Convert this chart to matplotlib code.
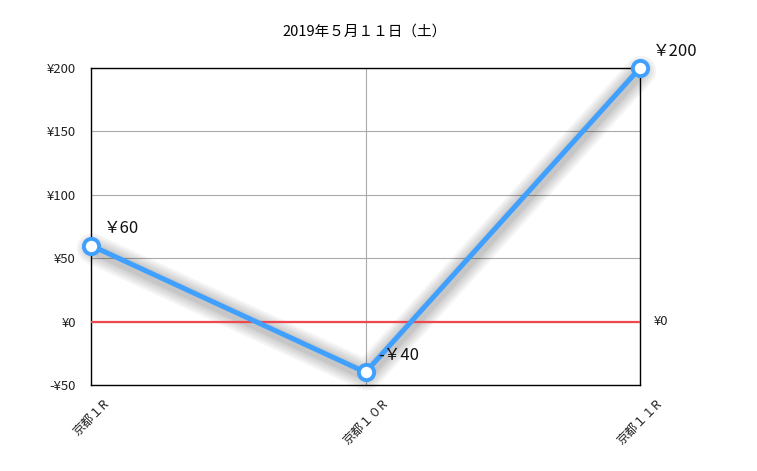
import matplotlib.pyplot as plt
import matplotlib.transforms as mtransforms

plt.rcParams['font.family'] = ['Noto Sans CJK JP', 'DejaVu Sans']

races = ["京都１R", "京都１０R", "京都１１R"]
profit = [60, -40, 200]
point_labels = ["￥60", "-￥40", "￥200"]
y_ticks = [-50, 0, 50, 100, 150, 200]
y_tick_labels = ["-¥50", "¥0", "¥50", "¥100", "¥150", "¥200"]
title = "2019年５月１１日（土）"

fig = plt.figure(figsize=(7.57, 4.71), dpi=100)
ax = fig.add_axes([91/757, 1-385/471, (640-91)/757, (385-68)/471])

x = list(range(len(races)))

# soft shadow: stacked wide strokes with low alpha
shift = ax.transData + mtransforms.ScaledTranslation(1/100, -3/100, fig.dpi_scale_trans)
for w in [22, 19, 16, 13, 10, 8]:
    ax.plot(x, profit, color="black", linewidth=w, alpha=0.04,
            solid_capstyle="round", solid_joinstyle="round",
            transform=shift, zorder=2, clip_on=False)

ax.plot(x, profit, color="#3fa0ff", linewidth=3.6, zorder=4,
        marker="o", markersize=11, markerfacecolor="white",
        markeredgecolor="#3fa0ff", markeredgewidth=2.8, clip_on=False)

ax.axhline(0, color="#f0474f", linewidth=1.6, zorder=3)
ax.text(1.025, 0, "¥0", transform=ax.get_yaxis_transform(), va="center",
        ha="left", fontsize=9.5, color="#222222")

for xi, yi, lab in zip(x, profit, point_labels):
    ax.annotate(lab, (xi, yi), xytext=(9, 12), textcoords="offset points",
                fontsize=12, color="#111111", ha="left", va="center", zorder=6)

ax.set_xlim(0, len(races) - 1)
ax.set_ylim(-50, 200)
ax.set_xticks(x)
ax.set_xticklabels(races, rotation=45, ha="center", va="top", fontsize=9)
ax.set_yticks(y_ticks)
ax.set_yticklabels(y_tick_labels, fontsize=9.5)
ax.tick_params(axis="y", length=0, pad=11, colors="#222222")
ax.tick_params(axis="x", length=0, pad=9, colors="#222222")
ax.grid(True, color="#aaaaaa", linewidth=0.8)
for s in ax.spines.values():
    s.set_linewidth(1)
    s.set_color("black")

fig.text(365/757, 1-32/471, title, ha="center", va="center", fontsize=10.5)

fig.savefig("out.png", dpi=100)
